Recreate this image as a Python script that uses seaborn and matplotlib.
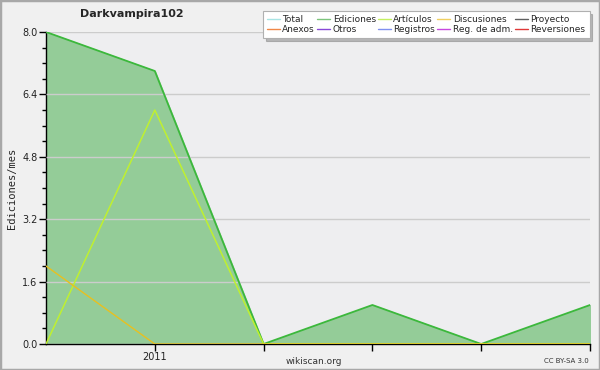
import numpy as np
import pandas as pd
import seaborn as sns
import matplotlib.pyplot as plt
from matplotlib.lines import Line2D
from matplotlib.patches import Rectangle
from matplotlib.ticker import MultipleLocator

months = ["2010-12", "2011-01", "2011-02", "2011-03", "2011-04", "2011-05"]
ediciones = [8, 7, 0, 1, 0, 1]
articulos = [0, 6, 0, 0, 0, 0]
discusiones = [2, 0, 0, 0, 0, 0]

legend_names = ["Total", "Ediciones", "Artículos", "Discusiones", "Proyecto",
                "Anexos", "Otros", "Registros", "Reg. de adm.", "Reversiones"]
legend_colors = ["#a8e4e4", "#7cc47c", "#c4f060", "#f0d060", "#606060",
                 "#f08848", "#8848d8", "#8090f0", "#c848e0", "#e03838"]

df = pd.DataFrame({"x": range(len(months)), "ediciones": ediciones,
                   "articulos": articulos, "discusiones": discusiones})

sns.set_style("white")
plt.rcParams["font.family"] = ["DejaVu Sans"]

fig = plt.figure(figsize=(6, 3.7), dpi=100, facecolor="#f0f0f0")
ax = fig.add_axes([46 / 600, 26 / 370, 544 / 600, 312 / 370])
ax.set_facecolor("#eeeef0")

ax.fill_between(df["x"], df["ediciones"], color="#94cc98", zorder=1)
sns.lineplot(data=df, x="x", y="ediciones", color="#3cb83c", lw=1.3, ax=ax, zorder=3)
sns.lineplot(data=df, x="x", y="articulos", color="#bff030", lw=1.1, ax=ax, zorder=4)
sns.lineplot(data=df, x="x", y="discusiones", color="#e8c020", lw=1.0, ax=ax, zorder=4)

ax.set_xlim(0, len(months) - 1)
ax.set_ylim(0, 8)
yt = np.arange(0, 8.01, 1.6)
ax.set_yticks(yt)
ax.set_yticklabels([f"{v:.1f}" for v in yt])
ax.yaxis.set_minor_locator(MultipleLocator(0.4))
ax.set_xticks(range(1, len(months)))
ax.set_xticklabels(["2011" if m.endswith("-01") else "" for m in months[1:]])
ax.grid(axis="y", color="#cccccc", lw=1, zorder=0)
ax.set_axisbelow(False)
for s in ["top", "right"]:
    ax.spines[s].set_visible(False)
for s in ["left", "bottom"]:
    ax.spines[s].set_color("black")
    ax.spines[s].set_linewidth(1)
ax.tick_params(axis="both", which="major", length=5, width=1, color="black",
               labelsize=7, labelcolor="#222222", pad=1, direction="out",
               left=True, bottom=True)
ax.tick_params(axis="y", which="minor", length=3, width=1, color="black", left=True)
ax.set_xlabel("")
ax.set_ylabel("Ediciones/mes", family="DejaVu Sans Mono", fontsize=7.5)
ax.yaxis.set_label_coords((17 - 46) / 544, 0.5)

# legend
handles = [Line2D([], [], color=c, lw=1) for c in legend_colors]
order = [0, 5, 1, 6, 2, 7, 3, 8, 4, 9]
leg = fig.legend([handles[i] for i in order], [legend_names[i] for i in order],
                 ncol=5, loc="upper left", bbox_to_anchor=(263 / 600, 1 - 11 / 370),
                 fontsize=6.5, frameon=True, fancybox=False, shadow={"color": "#808080"},
                 handlelength=1.4, handletextpad=0.3, columnspacing=0.25,
                 labelspacing=0.15, borderpad=0.45, borderaxespad=0)
leg.get_frame().set_edgecolor("#b0b0b0")
leg.get_frame().set_facecolor("white")
leg.get_frame().set_linewidth(0.8)

fig.text(132 / 600, 1 - 14 / 370, "Darkvampira102", ha="center", va="center",
         fontsize=8, fontweight="bold")
fig.text(314 / 600, 1 - 361 / 370, "wikiscan.org", ha="center", va="center",
         fontsize=6.5, color="#333333")
fig.text(589 / 600, 1 - 361 / 370, "CC BY-SA 3.0", ha="right", va="center",
         fontsize=5, color="#333333")
fig.patches.append(Rectangle((0, 0), 1, 1, transform=fig.transFigure, fill=False,
                             edgecolor="#a8a8a8", lw=2.5))

fig.savefig("out.png", dpi=100, facecolor=fig.get_facecolor())
